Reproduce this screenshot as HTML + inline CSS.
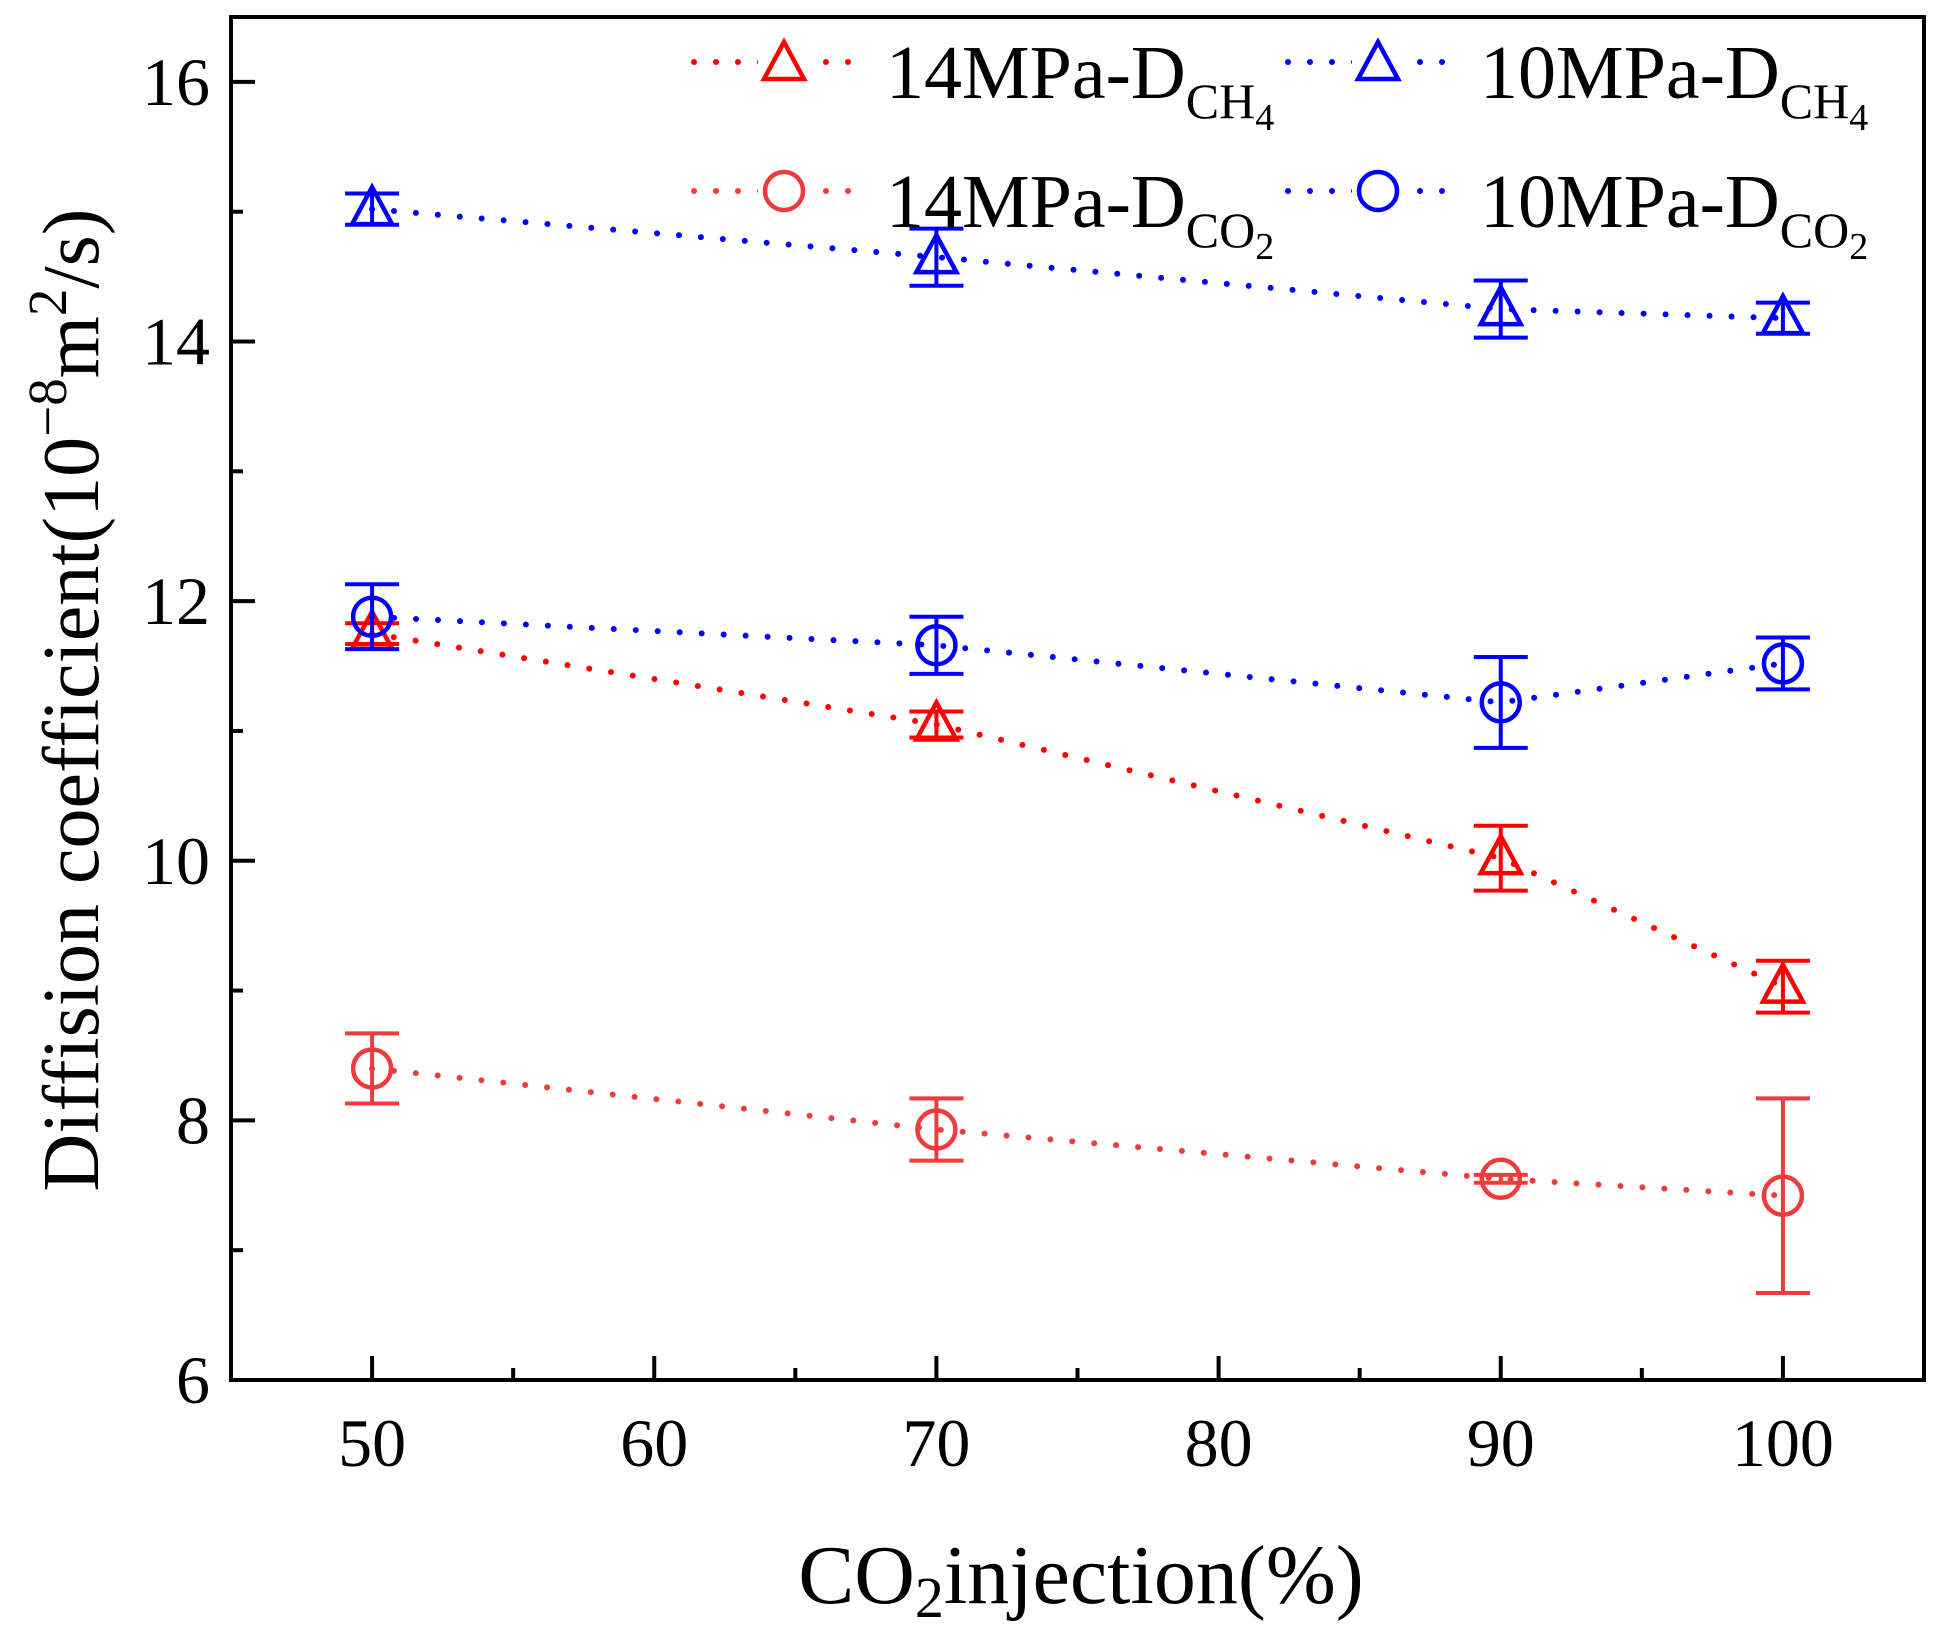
<!DOCTYPE html>
<html><head><meta charset="utf-8"><style>
body{margin:0;background:#fff}
svg{display:block;font-family:"Liberation Serif",serif}
</style></head><body>
<svg id="chart" width="1949" height="1636" viewBox="0 0 1949 1636" xmlns="http://www.w3.org/2000/svg">
<g id="plot"></g>
<g id="legend"></g>
<text x="1081" y="1603" font-size="84" text-anchor="middle">CO<tspan font-size="58" dy="14">2</tspan><tspan dy="-14">injection(%)</tspan></text>
<text transform="translate(98,700) rotate(-90)" font-size="80" text-anchor="middle">Diffision coefficient(10<tspan font-size="55" dy="-32">−8</tspan><tspan dy="32">m</tspan><tspan font-size="55" dy="-32">2</tspan><tspan dy="32">/s)</tspan></text>
</svg>
<script>
const categories=[50,70,90,100];
const ch4_14=[11.75,11.05,10.02,9.03];
const ch4_14_err=[0.08,0.1,0.25,0.2];
const ch4_10=[15.02,14.65,14.25,14.18];
const ch4_10_err=[0.12,0.22,0.22,0.12];
const co2_14=[8.4,7.93,7.55,7.42];
const co2_14_err=[0.27,0.24,0.03,0.75];
const co2_10=[11.88,11.66,11.22,11.52];
const co2_10_err=[0.25,0.22,0.35,0.2];
const xTicks=[50,60,70,80,90,100];
const yTicks=[6,8,10,12,14,16];

const NS="http://www.w3.org/2000/svg";
const L=231,R=1924,T=17,B=1380;
const xMin=45,xMax=105,yMin=6,yMax=16.5;
const xs=v=>L+(v-xMin)/(xMax-xMin)*(R-L);
const ys=v=>B-(v-yMin)/(yMax-yMin)*(B-T);
const plot=document.getElementById('plot');
function mk(tag,attrs,parent){const e=document.createElementNS(NS,tag);for(const k in attrs)e.setAttribute(k,attrs[k]);(parent||plot).appendChild(e);return e;}

const box=mk('rect',{x:L,y:T,width:R-L,height:B-T,fill:'none',stroke:'#000','stroke-width':4});


for(let v=xMin;v<=xMax;v+=5){
  const major=v%10===0;
  const t=mk('line',{x1:xs(v),x2:xs(v),y1:B,y2:B-(major?24:12),stroke:'#000','stroke-width':4});
  
  
}
xTicks.forEach(v=>{
  const t=mk('text',{x:xs(v),y:1466,'font-size':68,'text-anchor':'middle'});t.textContent=v;
  
  
});
for(let v=yMin;v<=16;v+=1){
  const major=v%2===0;
  const t=mk('line',{x1:L,x2:L+(major?24:12),y1:ys(v),y2:ys(v),stroke:'#000','stroke-width':4});
  
  
}
yTicks.forEach(v=>{
  const t=mk('text',{x:210,y:ys(v)+23,'font-size':68,'text-anchor':'end'});t.textContent=v;
  
  
});

function marker(type,cx,cy,color,parent){
  if(type==='tri'){
    return mk('polygon',{points:`${cx},${cy-22} ${cx-20},${cy+15} ${cx+20},${cy+15}`,fill:'none',stroke:color,'stroke-width':4.5},parent);
  }
  return mk('circle',{cx:cx,cy:cy,r:19,fill:'none',stroke:color,'stroke-width':4.5},parent);
}
function series(name,vals,errs,color,type){
  const g=mk('g',{});
  
  
  const pts=categories.map((c,i)=>xs(c)+','+ys(vals[i])).join(' ');
  const pl=mk('polyline',{points:pts,fill:'none',stroke:color,'stroke-width':6,'stroke-dasharray':'0 22','stroke-linecap':'round'},g);
  
  
  categories.forEach((c,i)=>{
    const x=xs(c),y1=ys(vals[i]+errs[i]),y2=ys(vals[i]-errs[i]);
    const eb=mk('path',{d:`M${x},${y1}V${y2}M${x-27},${y1}H${x+27}M${x-27},${y2}H${x+27}`,stroke:color,'stroke-width':4,fill:'none'},g);
    
    
    const m=marker(type,x,ys(vals[i]),color,g);
    
    
  });
}
series('co2-14mpa',co2_14,co2_14_err,'#ee3b3b','circ');
series('ch4-14mpa',ch4_14,ch4_14_err,'#ff0000','tri');
series('co2-10mpa',co2_10,co2_10_err,'#0000ff','circ');
series('ch4-10mpa',ch4_10,ch4_10_err,'#0000ff','tri');

const lg=document.getElementById('legend');
function legendEntry(x0,y,color,type,mainTxt,sub,subNum){
  const g=mk('g',{},lg);
  
  
  mk('line',{x1:x0,x2:x0+170,y1:y,y2:y,stroke:color,'stroke-width':6,'stroke-dasharray':'0 22','stroke-linecap':'round'},g);
  mk('rect',{x:x0+64,y:y-28,width:52,height:52,fill:'#fff'},g);
  marker(type,x0+90,y+(type==='tri'?2:0),color,g);
  const t=mk('text',{x:x0+192,y:y+36,'font-size':76},g);
  t.innerHTML=`${mainTxt}<tspan font-size="50" dy="20">${sub}</tspan><tspan font-size="38" dy="12">${subNum}</tspan>`;
}
legendEntry(694,62,'#ff0000','tri','14MPa-D','CH','4');
legendEntry(1288,62,'#0000ff','tri','10MPa-D','CH','4');
legendEntry(694,191,'#ee3b3b','circ','14MPa-D','CO','2');
legendEntry(1288,191,'#0000ff','circ','10MPa-D','CO','2');
</script>
</body></html>
